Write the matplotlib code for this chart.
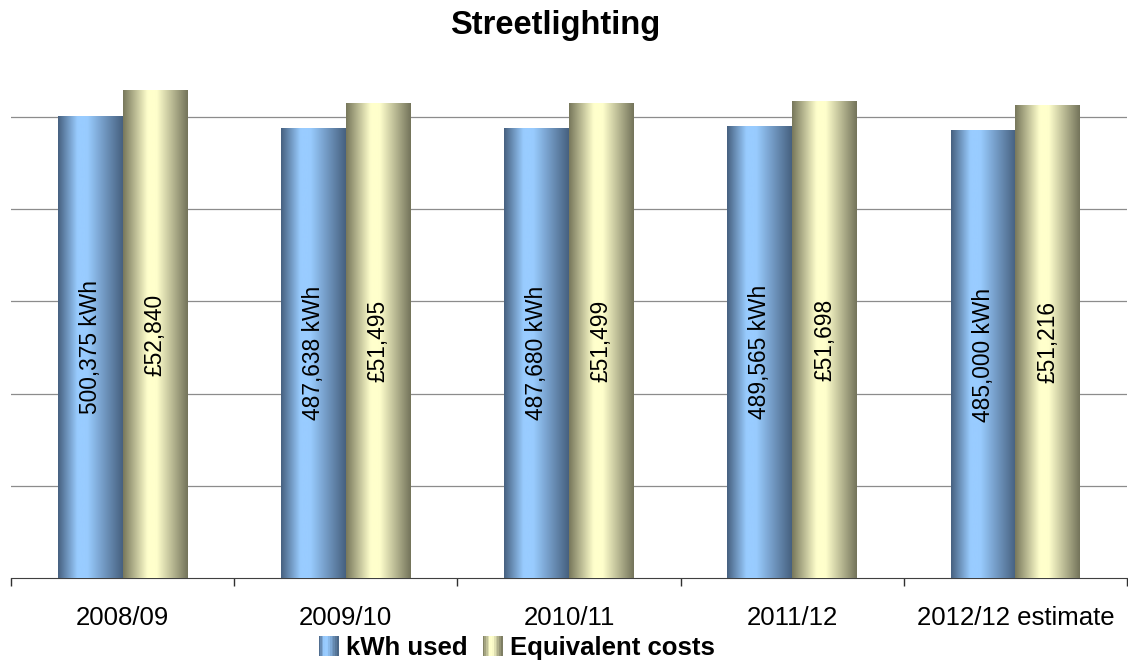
import matplotlib.pyplot as plt
import numpy as np
from matplotlib.colors import LinearSegmentedColormap
from matplotlib.legend_handler import HandlerBase
from matplotlib.patches import Rectangle

plt.rcParams['font.family'] = ['Liberation Sans', 'DejaVu Sans']

# Data
years = ['2008/09', '2009/10', '2010/11', '2011/12', '2012/12 estimate']
kwh_used = [500375, 487638, 487680, 489565, 485000]
costs = [52840, 51495, 51499, 51698, 51216]

# Gradient colour maps (dark edges, light centre)
blue_cmap = LinearSegmentedColormap.from_list(
    'blue', [(0, '#46607f'), (0.3, '#99ccff'), (0.45, '#99ccff'), (1, '#46607f')])
cream_cmap = LinearSegmentedColormap.from_list(
    'cream', [(0, '#77775b'), (0.38, '#ffffcc'), (0.52, '#ffffcc'), (1, '#73735a')])
grad = np.linspace(0, 1, 256).reshape(1, -1)


def shade_bars(ax, bars, cmap):
    for b in bars:
        x0, w, h = b.get_x(), b.get_width(), b.get_height()
        b.set_visible(False)
        ax.imshow(grad, cmap=cmap, extent=[x0, x0 + w, 0, h],
                  aspect='auto', interpolation='bicubic', zorder=3)


class GradientHandler(HandlerBase):
    def __init__(self, cmap):
        super().__init__()
        self.cmap = cmap

    def create_artists(self, legend, orig_handle, xdescent, ydescent,
                       width, height, fontsize, trans):
        n = 12
        side = height * 1.1
        x0 = -xdescent + width - side
        y0 = -ydescent + (height - side) / 2
        arts = []
        for i in range(n):
            r = Rectangle((x0 + side * i / n, y0), side / n + 0.3, side,
                          facecolor=self.cmap((i + 0.5) / n), edgecolor='none',
                          transform=trans)
            arts.append(r)
        return arts


fig = plt.figure(figsize=(11.28, 6.66), dpi=100)
ax = fig.add_axes([11 / 1128, 1 - 578 / 666, 1116 / 1128, 507 / 666])
ax2 = ax.twinx()

x = np.arange(len(years))
w = 0.29
b1 = ax.bar(x - w / 2, kwh_used, w)
b2 = ax2.bar(x + w / 2, costs, w)
shade_bars(ax, b1, blue_cmap)
shade_bars(ax2, b2, cream_cmap)

ax.set_xlim(-0.5, len(years) - 0.5)
ax.set_ylim(0, 550000)
ax2.set_ylim(0, 55000)

# Labels inside bars
for xi, v in zip(x, kwh_used):
    ax.text(xi - w / 2, v / 2, f'{v:,} kWh', rotation=90, ha='center',
            va='center', fontsize=16.4, zorder=5)
for xi, v in zip(x, costs):
    ax2.text(xi + w / 2, v / 2, f'£{v:,}', rotation=90, ha='center',
             va='center', fontsize=16.4, zorder=5)

# Grid and axes
ax.set_yticks([100000, 200000, 300000, 400000, 500000])
ax.yaxis.grid(True, color='#8c8c8c', linewidth=0.9)
ax.set_axisbelow(True)
ax.tick_params(axis='y', left=False, labelleft=False)
ax2.tick_params(axis='y', right=False, labelright=False)
for a in (ax, ax2):
    for s in ('left', 'right', 'top'):
        a.spines[s].set_visible(False)
    a.spines['bottom'].set_color('#404040')
ax2.spines['bottom'].set_visible(False)

ax.set_xticks(x)
ax.set_xticklabels(years, fontsize=18.5)
ax.set_xticks(np.arange(len(years) + 1) - 0.5, minor=True)
ax.tick_params(axis='x', which='major', length=0, pad=20)
ax.tick_params(axis='x', which='minor', length=6, width=1, color='#303030', direction='out')

fig.suptitle('Streetlighting', fontsize=23.5, fontweight='bold', x=555 / 1128, y=1 - 10 / 666)

h1 = Rectangle((0, 0), 1, 1)
h2 = Rectangle((0, 0), 1, 1)
fig.legend([h1, h2], ['kWh used', 'Equivalent costs'],
           handler_map={h1: GradientHandler(blue_cmap), h2: GradientHandler(cream_cmap)},
           loc='center', bbox_to_anchor=(517 / 1128, 1 - 648 / 666), ncol=2,
           frameon=False, prop={'weight': 'bold', 'size': 18.5},
           handlelength=0.75, handletextpad=0.3, columnspacing=0.6)

fig.savefig('out.png', dpi=100)
